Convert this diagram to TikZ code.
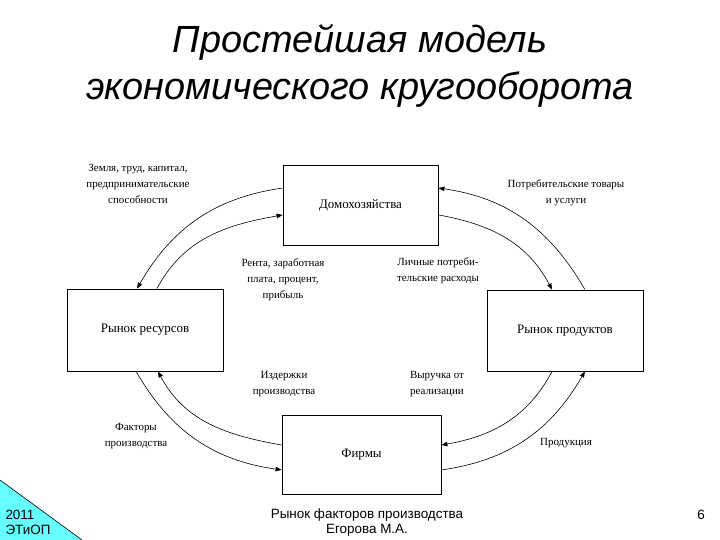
\documentclass[tikz,border=0pt]{standalone}
\usepackage{fontspec}
\setmainfont{Liberation Serif}
\newfontfamily\slidefont{Liberation Sans}
\usepackage{xcolor}
\usepackage{tikz}
\usetikzlibrary{arrows.meta,positioning,calc}
\definecolor{Aqua}{HTML}{66FFFF}
\begin{document}
\begin{tikzpicture}[x=1bp,y=1bp,
  every node/.style={align=center},
  market/.style={draw,line width=0.8pt,inner sep=0pt,font=\fontsize{13}{16}\selectfont},
  lbl/.style={font=\fontsize{11}{16}\selectfont},
  flow/.style={-{Triangle[length=6bp,width=4.5bp]},line width=0.6pt}
]
\useasboundingbox (0,0) rectangle (720,540);
% title
\node[font=\slidefont\itshape\fontsize{38}{48}\selectfont] (title) at (360,474) {Простейшая модель\\экономического кругооборота};
% markets and agents
\node[market,minimum width=155bp,minimum height=80bp] (hh) at (360.5,335) {Домохозяйства};
\node[market,minimum width=156bp,minimum height=82bp] (resmkt) at (145,210) {Рынок ресурсов};
\node[market,minimum width=156bp,minimum height=81bp] (prodmkt) at (565,209.5) {Рынок продуктов};
\node[market,minimum width=159bp,minimum height=79bp] (firms) at (361.5,85.5) {Фирмы};
% flows
\draw[flow] ([yshift=17]hh.west) to[out=188,in=60] ([xshift=-8]resmkt.north);
\draw[flow] ([xshift=12]resmkt.north) to[out=62,in=190] ([yshift=-10]hh.west);
\draw[flow] ([xshift=20]prodmkt.north) to[out=120,in=-8] ([yshift=17]hh.east);
\draw[flow] ([yshift=-10]hh.east) to[out=-10,in=118] ([xshift=-13]prodmkt.north);
\draw[flow] ([xshift=-9]resmkt.south) to[out=-60,in=172] ([yshift=-15.5]firms.west);
\draw[flow] ([yshift=9.5]firms.west) to[out=170,in=-62] ([xshift=13]resmkt.south);
\draw[flow] ([yshift=-15.5]firms.east) to[out=8,in=-120] ([xshift=20]prodmkt.south);
\draw[flow] ([xshift=-13]prodmkt.south) to[out=-118,in=10] ([yshift=9.5]firms.east);
% labels
\node[lbl] (land) at (138,356) {Земля, труд, капитал,\\предпринимательские\\способности};
\node[lbl] (goods) at (566,347) {Потребительские товары\\и услуги};
\node[lbl] (rent) at (283,260) {Рента, заработная\\плата, процент,\\прибыль};
\node[lbl] (spend) at (438,269.5) {Личные потреби-\\тельские расходы};
\node[lbl] (costs) at (284,155.5) {Издержки\\производства};
\node[lbl] (revenue) at (437,155.5) {Выручка от\\реализации};
\node[lbl] (factors) at (136,103.5) {Факторы\\производства};
\node[lbl] (output) at (566,97) {Продукция};
% footer
\fill[Aqua] (0,0) -- (0,60) -- (82,0) -- cycle;
\draw[line width=0.6pt] (0,60) -- (82,0);
\node[font=\slidefont\fontsize{13.5}{15.5}\selectfont,align=left,anchor=west] (year) at (2,17.5) {2011\\ЭТиОП};
\node[font=\slidefont\fontsize{13.5}{15.5}\selectfont] (footer) at (367,17.5) {Рынок факторов производства\\Егорова М.А.};
\node[font=\slidefont\fontsize{13.5}{15.5}\selectfont] (page) at (701,25) {6};
\end{tikzpicture}
\end{document}
